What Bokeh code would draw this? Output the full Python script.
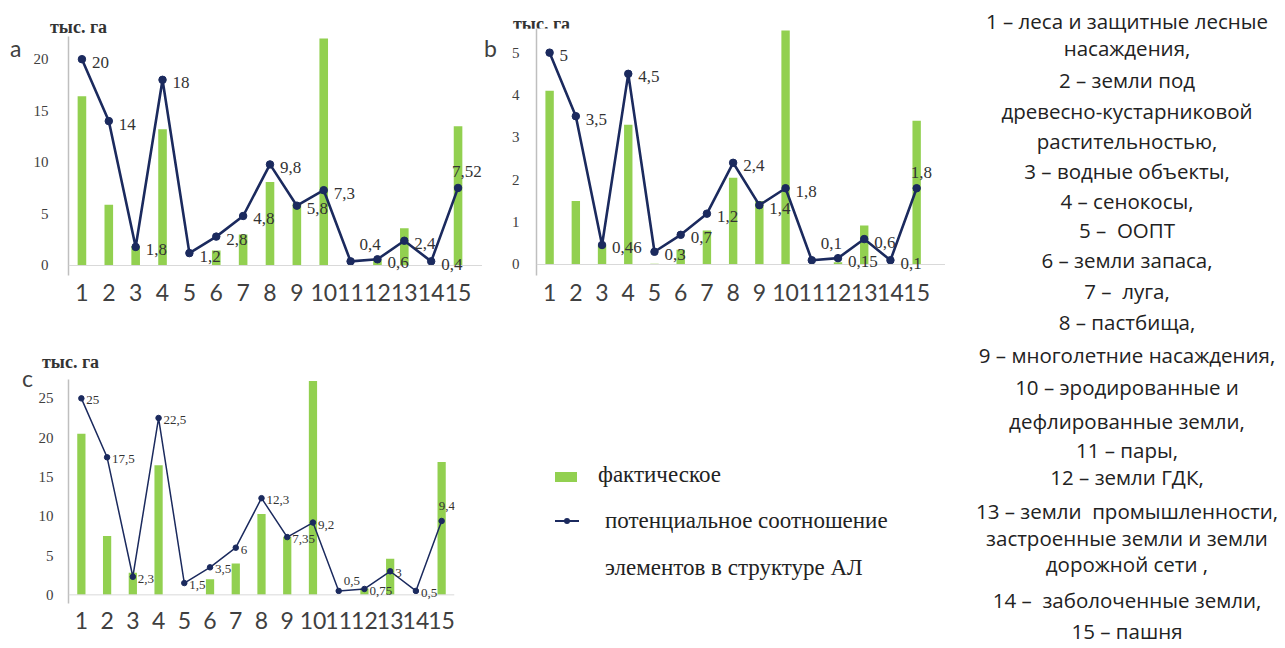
from bokeh.plotting import figure
from bokeh.models import ColumnDataSource, LabelSet, Span, Div, FixedTicker, Range1d
from bokeh.layouts import row, column
from bokeh.embed import file_html
from bokeh.resources import INLINE

# ---------------- data ----------------
categories = list(range(1, 16))
tick_labels = [str(c) for c in categories]

# panel a
fact_a = [16.4, 5.9, 1.9, 13.2, 0.0, 1.45, 3.0, 8.1, 6.0, 22.0, 0.0, 0.5, 3.6, 0.0, 13.5]
pot_a = [20, 14, 1.8, 18, 1.2, 2.8, 4.8, 9.8, 5.8, 7.3, 0.4, 0.6, 2.4, 0.4, 7.52]
yticks_a = [0, 5, 10, 15, 20]

# panel b
fact_b = [4.1, 1.5, 0.45, 3.3, 0.02, 0.35, 0.8, 2.05, 1.5, 5.52, 0.0, 0.05, 0.92, 0.0, 3.39]
pot_b = [5, 3.5, 0.46, 4.5, 0.3, 0.7, 1.2, 2.4, 1.4, 1.8, 0.1, 0.15, 0.6, 0.1, 1.8]
yticks_b = [0, 1, 2, 3, 4, 5]

# panel c
fact_c = [20.5, 7.5, 2.8, 16.5, 0.0, 2.0, 4.0, 10.3, 7.4, 27.2, 0.0, 0.8, 4.6, 0.0, 16.9]
pot_c = [25, 17.5, 2.3, 22.5, 1.5, 3.5, 6, 12.3, 7.35, 9.2, 0.5, 0.75, 3, 0.5, 9.4]
yticks_c = [0, 5, 10, 15, 20, 25]

unit_label = "тыс. га"
legend_fact = "фактическое"
legend_pot = ["потенциальное соотношение", "элементов в структуре АЛ"]

key_lines = [
    "1 – леса и защитные лесные",
    "насаждения,",
    "2 – земли под",
    "древесно-кустарниковой",
    "растительностью,",
    "3 – водные объекты,",
    "4 – сенокосы,",
    "5 –  ООПТ",
    "6 – земли запаса,",
    "7 –  луга,",
    "8 – пастбища,",
    "9 – многолетние насаждения,",
    "10 – эродированные и",
    "дефлированные земли,",
    "11 – пары,",
    "12 – земли ГДК,",
    "13 – земли  промышленности,",
    "застроенные земли и земли",
    "дорожной сети ,",
    "14 –  заболоченные земли,",
    "15 – пашня",
]

# ---------------- style ----------------
GREEN = "#92D050"
NAVY = "#1B2A5E"
TXT = "#333333"
SERIF = "Liberation Serif"
SANS = "Lato"
KEY_FONT = "Open Sans"

place = ["r"] * 10 + ["ar", "r", "r", "r", "a"]
OFF_AB = {"r": (10, -3), "ar": (9, 17), "a": (-6, 16)}
OFF_C = {"r": (5, -2), "ar": (5, 10), "a": (-3, 15)}
key_centers = [21, 48, 80, 111, 141, 171, 201, 230, 260, 291, 322, 355, 387, 421, 450,
               477, 511, 538, 564, 600, 631]


def fmt(v):
    return f"{v:g}".replace(".", ",")


def text_div(txt, width, height, left, top, font, size, color, bold=False, lh=26):
    weight = "bold" if bold else "normal"
    html = (f'<div style="position:relative;width:{width}px;height:{height}px;">'
            f'<div style="position:absolute;left:{left}px;top:{top}px;white-space:pre;'
            f'font-family:\'{font}\';font-size:{size}px;font-weight:{weight};color:{color};'
            f'line-height:{lh}px;">{txt}</div></div>')
    return Div(text=html, width=width, height=height, margin=0)


def panel(fact, pot, xr, yr, yticks, width, height, ml, mr, mb, offs, thin, ystand, lab_size):
    p = figure(width=width, height=height, x_range=Range1d(*xr),
               y_range=Range1d(*yr), output_backend="svg", toolbar_location=None,
               title=None, min_border_left=ml, min_border_right=mr,
               min_border_top=0, min_border_bottom=mb, margin=0)
    p.outline_line_color = None
    p.grid.visible = False

    src = ColumnDataSource(dict(
        x=categories, fact=fact, pot=pot, text=[fmt(v) for v in pot],
        dx=[offs[k][0] for k in place], dy=[offs[k][1] for k in place]))

    p.add_layout(Span(location=0, dimension="width", line_color="#d9d9d9", line_width=1))
    p.vbar(x="x", top="fact", width=0.32, source=src, fill_color=GREEN, line_color=None)
    p.line("x", "pot", source=src, line_color=NAVY, line_width=1.5 if thin else 2.6)
    p.scatter("x", "pot", source=src, size=5.5 if thin else 7.5, fill_color=NAVY, line_color=NAVY)
    p.add_layout(LabelSet(x="x", y="pot", text="text", x_offset="dx", y_offset="dy",
                          source=src, text_baseline="middle", text_align="left",
                          text_font=SERIF, text_font_size=lab_size, text_color=TXT))

    p.xaxis.ticker = FixedTicker(ticks=categories)
    p.xaxis.major_label_overrides = {c: t for c, t in zip(categories, tick_labels)}
    p.xaxis.axis_line_color = None
    p.xaxis.major_tick_line_color = None
    p.xaxis.minor_tick_line_color = None
    p.xaxis.major_label_standoff = 2
    p.xaxis.major_label_text_font = SANS
    p.xaxis.major_label_text_font_size = "23px"
    p.xaxis.major_label_text_color = "#404040"

    p.yaxis.ticker = FixedTicker(ticks=yticks)
    p.yaxis.axis_line_color = "#bfbfbf"
    p.yaxis.axis_line_width = 1.5
    p.yaxis.major_tick_line_color = None
    p.yaxis.minor_tick_line_color = None
    p.yaxis.major_label_standoff = ystand
    p.yaxis.major_label_text_font = SERIF
    p.yaxis.major_label_text_font_size = "15px"
    p.yaxis.major_label_text_color = "#404040"
    return p


# ---- panel a (x 0..482, y 0..340) ----
letter_a = text_div("a", 30, 340, 10, 35, SANS, 23, "#404040")
unit_a = text_div(unit_label, 452, 36, 20, 16, SERIF, 18, TXT, bold=True, lh=22)
fig_a = panel(fact_a, pot_a, (0.5, 15.91), (-0.97, 22.2), yticks_a, 452, 304, 38, 0, 65,
              OFF_AB, False, 14, "17px")

# ---- panel b (x 482..945, y 0..340) ----
letter_b = text_div("b", 26, 340, 2, 35, SANS, 23, "#404040")
unit_b = text_div(unit_label, 437, 28, 5, 13, SERIF, 18, TXT, bold=True, lh=22)
fig_b = panel(fact_b, pot_b, (0.5, 16.1), (-0.26, 5.57), yticks_b, 437, 312, 21, 0, 65,
              OFF_AB, False, 11, "17px")

# ---- panel c (x 0..470, y 340..648) ----
letter_c = text_div("c", 34, 308, 22, 25, SANS, 23, "#404040")
unit_c = text_div(unit_label, 436, 39, 8, 11, SERIF, 18, TXT, bold=True, lh=22)
fig_c = panel(fact_c, pot_c, (0.5, 15.5), (-1.1, 27.4), yticks_c, 436, 269, 34, 16, 45,
              OFF_C, True, 9, "13px")

# ---- legend (x 470..945, y 340..648) ----
legend_html = (
    f'<div style="position:relative;width:475px;height:308px;font-family:\'{SERIF}\';'
    f'font-size:23px;color:#222;">'
    f'<div style="position:absolute;left:85px;top:132px;width:22px;height:10px;background:{GREEN};"></div>'
    f'<div style="position:absolute;left:128px;top:122px;line-height:26px;white-space:pre;">{legend_fact}</div>'
    f'<svg style="position:absolute;left:85px;top:176px;" width="24" height="10">'
    f'<line x1="0" y1="5" x2="24" y2="5" stroke="{NAVY}" stroke-width="2"/>'
    f'<circle cx="12" cy="5" r="3" fill="{NAVY}"/></svg>'
    f'<div style="position:absolute;left:135px;top:168px;line-height:26px;white-space:pre;">{legend_pot[0]}</div>'
    f'<div style="position:absolute;left:135px;top:215px;line-height:26px;white-space:pre;">{legend_pot[1]}</div>'
    f'</div>'
)
legend_div = Div(text=legend_html, width=475, height=308, margin=0)

# ---- key (x 945..1285) ----
key_html = (
    f'<div style="position:relative;width:340px;height:648px;font-family:\'{KEY_FONT}\';'
    f'font-size:20.5px;color:#222;">'
    + "".join(
        f'<div style="position:absolute;left:182px;top:{c - 11}px;line-height:22px;'
        f'transform:translateX(-50%);white-space:pre;">{t}</div>'
        for t, c in zip(key_lines, key_centers))
    + '</div>'
)
key_div = Div(text=key_html, width=340, height=648, margin=0)

top_row = row(letter_a, column(unit_a, fig_a, spacing=0),
              letter_b, column(unit_b, fig_b, spacing=0), spacing=0)
bottom_row = row(letter_c, column(unit_c, fig_c, spacing=0), legend_div, spacing=0)
layout = row(column(top_row, bottom_row, spacing=0), key_div, spacing=0)

open("out.html", "w").write(file_html(layout, INLINE))
